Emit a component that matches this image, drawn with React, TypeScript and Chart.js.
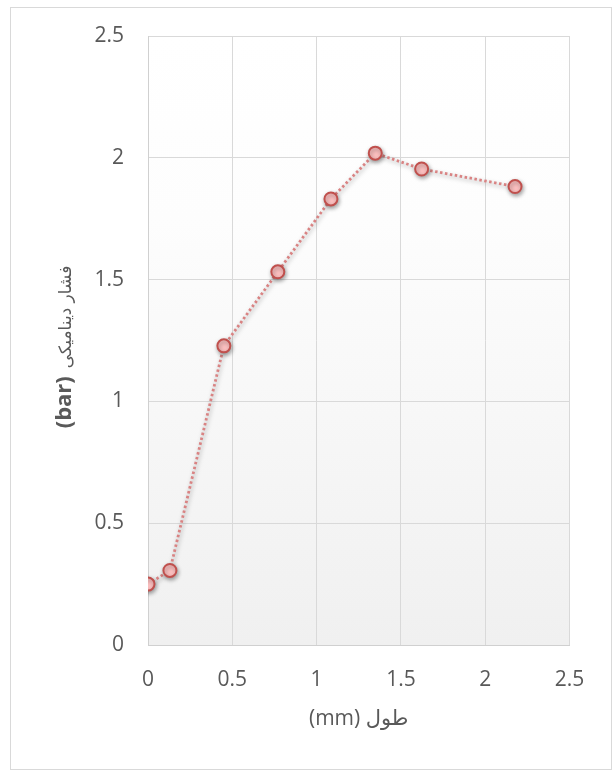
import React, { useEffect, useRef } from "react";
import { Chart, registerables } from "chart.js";

Chart.register(...registerables);

const lengthMm = [0, 0.13, 0.45, 0.77, 1.085, 1.348, 1.623, 2.177];
const pressureBar = [0.25, 0.306, 1.228, 1.532, 1.831, 2.019, 1.954, 1.882];
const xTickValues = [0, 0.5, 1, 1.5, 2, 2.5];
const yTickValues = [0, 0.5, 1, 1.5, 2, 2.5];
const xTitle = "(mm) طول";
const yTitleUnit = "(bar)";
const yTitleName = "فشار دینامیکی";

const FONT = "'Open Sans', 'DejaVu Sans', sans-serif";

const bgPlugin = {
  id: "plotBg",
  beforeDraw(chart: any) {
    const { ctx, chartArea } = chart;
    if (!chartArea) return;
    const g = ctx.createLinearGradient(0, chartArea.top, 0, chartArea.bottom);
    g.addColorStop(0, "#ffffff");
    g.addColorStop(0.3, "#fdfdfd");
    g.addColorStop(1, "#f0f0f0");
    ctx.save();
    ctx.fillStyle = g;
    ctx.fillRect(chartArea.left, chartArea.top, chartArea.right - chartArea.left, chartArea.bottom - chartArea.top);
    ctx.restore();
  },
};

const shadowPlugin = {
  id: "shadow",
  beforeDatasetsDraw(chart: any) {
    const ctx = chart.ctx;
    ctx.save();
    ctx.shadowColor = "rgba(0,0,0,0.35)";
    ctx.shadowBlur = 4;
    ctx.shadowOffsetX = 1;
    ctx.shadowOffsetY = 2;
  },
  afterDatasetsDraw(chart: any) {
    chart.ctx.restore();
  },
};

const yTitlePlugin = {
  id: "yTitle",
  afterDraw(chart: any) {
    const { ctx } = chart;
    const unitFont = `bold 22px ${FONT}`;
    const nameFont = `17px 'DejaVu Sans', sans-serif`;
    ctx.save();
    ctx.font = unitFont;
    const wUnit = ctx.measureText(yTitleUnit).width;
    ctx.font = nameFont;
    const wName = ctx.measureText(yTitleName).width;
    const gap = 8;
    const total = wUnit + gap + wName;
    const cx = 60;
    const cy = 339;
    ctx.translate(cx, cy);
    ctx.rotate(-Math.PI / 2);
    ctx.fillStyle = "#595959";
    ctx.textBaseline = "alphabetic";
    ctx.textAlign = "left";
    ctx.font = unitFont;
    ctx.fillText(yTitleUnit, -total / 2, 0);
    ctx.font = nameFont;
    ctx.fillText(yTitleName, -total / 2 + wUnit + gap, 0);
    ctx.restore();
  },
};

export default function App() {
  const ref = useRef<HTMLCanvasElement | null>(null);

  useEffect(() => {
    if (!ref.current) return;
    const chart = new Chart(ref.current, {
      type: "scatter",
      data: {
        datasets: [
          {
            data: lengthMm.map((x, i) => ({ x, y: pressureBar[i] })),
            showLine: true,
            borderColor: "#d98383",
            borderWidth: 2.8,
            borderDash: [2.5, 2.5],
            pointRadius: 6.5,
            pointBorderWidth: 2,
            pointBackgroundColor: "#fcc0c0",
            pointBorderColor: "#c0504d",
            pointHoverRadius: 6.5,
          } as any,
        ],
      },
      options: {
        animation: false,
        responsive: false,
        events: [],
        layout: { padding: { left: 0, right: 41.5, top: 28, bottom: 0 } },
        plugins: {
          legend: { display: false },
          tooltip: { enabled: false },
        },
        scales: {
          x: {
            type: "linear",
            min: 0,
            max: 2.5,
            afterBuildTicks: (s: any) => {
              s.ticks = xTickValues.map((v) => ({ value: v }));
            },
            afterFit: (s: any) => {
              s.height = 124;
            },
            ticks: {
              color: "#595959",
              font: { family: FONT, size: 21 },
              padding: 22,
              callback: (v: any) => String(v),
              maxRotation: 0,
            },
            grid: { color: "#d9d9d9", drawTicks: false, lineWidth: 1 },
            border: { color: "#d0d0d0", width: 1 },
            title: {
              display: true,
              text: xTitle,
              color: "#595959",
              font: { family: FONT, size: 21 },
              padding: { top: 0, bottom: 37 },
            },
          },
          y: {
            type: "linear",
            min: 0,
            max: 2.5,
            afterBuildTicks: (s: any) => {
              s.ticks = yTickValues.map((v) => ({ value: v }));
            },
            afterFit: (s: any) => {
              s.width = 137;
            },
            ticks: {
              color: "#595959",
              font: { family: FONT, size: 21 },
              padding: 0,
              callback: (v: any) => String(v),
            },
            grid: {
              color: "#d9d9d9",
              drawTicks: true,
              tickLength: 24,
              tickColor: "rgba(0,0,0,0)",
              lineWidth: 1,
            },
            border: { color: "#d0d0d0", width: 1 },
            title: { display: false },
          },
        },
      },
      plugins: [bgPlugin, shadowPlugin, yTitlePlugin],
    });
    return () => chart.destroy();
  }, []);

  return (
    <div
      style={{
        position: "absolute",
        left: 10,
        top: 7,
        width: 600,
        height: 761,
        border: "1px solid #d9d9d9",
        background: "#ffffff",
      }}
    >
      <canvas ref={ref} width={600} height={761} style={{ display: "block" }} />
    </div>
  );
}
